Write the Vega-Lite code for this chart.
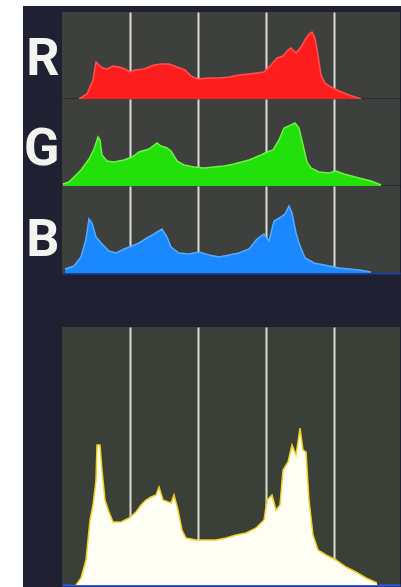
{
  "$schema": "https://vega.github.io/schema/vega-lite/v6.json",
  "background": "#1f2032",
  "padding": 0,
  "datasets": {
    "hist": [
      {"ch": "R", "v": 12.75, "h": 0}, {"ch": "R", "v": 18.75, "h": 5}, {"ch": "R", "v": 23.25, "h": 19}, {"ch": "R", "v": 25.5, "h": 37},
      {"ch": "R", "v": 27.75, "h": 34}, {"ch": "R", "v": 30.75, "h": 31}, {"ch": "R", "v": 33.75, "h": 30}, {"ch": "R", "v": 38.25, "h": 33},
      {"ch": "R", "v": 42.75, "h": 32}, {"ch": "R", "v": 47.25, "h": 30}, {"ch": "R", "v": 51, "h": 27}, {"ch": "R", "v": 54.75, "h": 29},
      {"ch": "R", "v": 61.5, "h": 30}, {"ch": "R", "v": 69, "h": 34}, {"ch": "R", "v": 75, "h": 35}, {"ch": "R", "v": 80.25, "h": 35},
      {"ch": "R", "v": 86.25, "h": 32}, {"ch": "R", "v": 92.25, "h": 29}, {"ch": "R", "v": 96.75, "h": 23}, {"ch": "R", "v": 102, "h": 20},
      {"ch": "R", "v": 110.25, "h": 21}, {"ch": "R", "v": 117.75, "h": 21}, {"ch": "R", "v": 125.25, "h": 22}, {"ch": "R", "v": 132.75, "h": 24},
      {"ch": "R", "v": 140.25, "h": 25}, {"ch": "R", "v": 146.25, "h": 26}, {"ch": "R", "v": 151.5, "h": 27}, {"ch": "R", "v": 156.75, "h": 34},
      {"ch": "R", "v": 161.25, "h": 41}, {"ch": "R", "v": 165.75, "h": 43}, {"ch": "R", "v": 169.5, "h": 49}, {"ch": "R", "v": 171.75, "h": 51},
      {"ch": "R", "v": 175.5, "h": 46}, {"ch": "R", "v": 179.25, "h": 52}, {"ch": "R", "v": 182.25, "h": 59}, {"ch": "R", "v": 185.25, "h": 65},
      {"ch": "R", "v": 187.5, "h": 67}, {"ch": "R", "v": 189.75, "h": 61}, {"ch": "R", "v": 192, "h": 44}, {"ch": "R", "v": 194.25, "h": 24},
      {"ch": "R", "v": 197.25, "h": 16}, {"ch": "R", "v": 201.75, "h": 12}, {"ch": "R", "v": 207.75, "h": 8}, {"ch": "R", "v": 215.25, "h": 4},
      {"ch": "R", "v": 224.25, "h": 0},

      {"ch": "G", "v": 0.75, "h": 2}, {"ch": "G", "v": 5.25, "h": 4}, {"ch": "G", "v": 9, "h": 9}, {"ch": "G", "v": 14.25, "h": 16},
      {"ch": "G", "v": 20.25, "h": 27}, {"ch": "G", "v": 24, "h": 37}, {"ch": "G", "v": 27, "h": 49}, {"ch": "G", "v": 28.5, "h": 46},
      {"ch": "G", "v": 30, "h": 31}, {"ch": "G", "v": 33.75, "h": 25}, {"ch": "G", "v": 39, "h": 24}, {"ch": "G", "v": 46.5, "h": 26},
      {"ch": "G", "v": 52.5, "h": 29}, {"ch": "G", "v": 57.75, "h": 34}, {"ch": "G", "v": 65.25, "h": 37}, {"ch": "G", "v": 71.25, "h": 43},
      {"ch": "G", "v": 74.25, "h": 40}, {"ch": "G", "v": 78.75, "h": 38}, {"ch": "G", "v": 81.75, "h": 35}, {"ch": "G", "v": 86.25, "h": 25},
      {"ch": "G", "v": 91.5, "h": 21}, {"ch": "G", "v": 99, "h": 19}, {"ch": "G", "v": 106.5, "h": 18}, {"ch": "G", "v": 114, "h": 19},
      {"ch": "G", "v": 121.5, "h": 20}, {"ch": "G", "v": 129, "h": 22}, {"ch": "G", "v": 140.25, "h": 26}, {"ch": "G", "v": 149.25, "h": 31},
      {"ch": "G", "v": 153.75, "h": 34}, {"ch": "G", "v": 158.25, "h": 36}, {"ch": "G", "v": 162.75, "h": 46}, {"ch": "G", "v": 166.5, "h": 58},
      {"ch": "G", "v": 171.75, "h": 61}, {"ch": "G", "v": 174.75, "h": 63}, {"ch": "G", "v": 177.75, "h": 58}, {"ch": "G", "v": 180.75, "h": 41},
      {"ch": "G", "v": 183.75, "h": 24}, {"ch": "G", "v": 186.75, "h": 18}, {"ch": "G", "v": 192.75, "h": 14}, {"ch": "G", "v": 200.25, "h": 13},
      {"ch": "G", "v": 205.5, "h": 15}, {"ch": "G", "v": 211.5, "h": 12}, {"ch": "G", "v": 222.75, "h": 8}, {"ch": "G", "v": 231.75, "h": 5},
      {"ch": "G", "v": 239.25, "h": 1},

      {"ch": "B", "v": 2.25, "h": 4}, {"ch": "B", "v": 9, "h": 7}, {"ch": "B", "v": 14.25, "h": 16}, {"ch": "B", "v": 18, "h": 34},
      {"ch": "B", "v": 20.25, "h": 54}, {"ch": "B", "v": 22.5, "h": 50}, {"ch": "B", "v": 25.5, "h": 36}, {"ch": "B", "v": 30, "h": 29},
      {"ch": "B", "v": 35.25, "h": 22}, {"ch": "B", "v": 40.5, "h": 20}, {"ch": "B", "v": 46.5, "h": 24}, {"ch": "B", "v": 52.5, "h": 27},
      {"ch": "B", "v": 57.75, "h": 30}, {"ch": "B", "v": 63.75, "h": 35}, {"ch": "B", "v": 69, "h": 39}, {"ch": "B", "v": 75, "h": 44},
      {"ch": "B", "v": 78.75, "h": 36}, {"ch": "B", "v": 81.75, "h": 26}, {"ch": "B", "v": 87.75, "h": 20}, {"ch": "B", "v": 95.25, "h": 19},
      {"ch": "B", "v": 102.75, "h": 21}, {"ch": "B", "v": 110.25, "h": 18}, {"ch": "B", "v": 117.75, "h": 16}, {"ch": "B", "v": 125.25, "h": 18},
      {"ch": "B", "v": 132.75, "h": 20}, {"ch": "B", "v": 140.25, "h": 24}, {"ch": "B", "v": 146.25, "h": 34}, {"ch": "B", "v": 151.5, "h": 39},
      {"ch": "B", "v": 155.25, "h": 32}, {"ch": "B", "v": 159, "h": 52}, {"ch": "B", "v": 164.25, "h": 56}, {"ch": "B", "v": 167.25, "h": 59},
      {"ch": "B", "v": 170.25, "h": 67}, {"ch": "B", "v": 172.5, "h": 60}, {"ch": "B", "v": 175.5, "h": 40}, {"ch": "B", "v": 177.75, "h": 30},
      {"ch": "B", "v": 182.25, "h": 15}, {"ch": "B", "v": 189, "h": 10}, {"ch": "B", "v": 196.5, "h": 8}, {"ch": "B", "v": 207.75, "h": 5},
      {"ch": "B", "v": 222.75, "h": 3}, {"ch": "B", "v": 231.75, "h": 1},

      {"ch": "Y", "v": 10.5, "h": 0}, {"ch": "Y", "v": 14.25, "h": 7}, {"ch": "Y", "v": 18, "h": 25}, {"ch": "Y", "v": 21, "h": 65},
      {"ch": "Y", "v": 23.25, "h": 80}, {"ch": "Y", "v": 25.5, "h": 105}, {"ch": "Y", "v": 26.25, "h": 140}, {"ch": "Y", "v": 28.5, "h": 140},
      {"ch": "Y", "v": 30, "h": 115}, {"ch": "Y", "v": 32.25, "h": 85}, {"ch": "Y", "v": 35.25, "h": 73}, {"ch": "Y", "v": 38.25, "h": 63},
      {"ch": "Y", "v": 44.25, "h": 63}, {"ch": "Y", "v": 50.25, "h": 67}, {"ch": "Y", "v": 55.5, "h": 73}, {"ch": "Y", "v": 59.25, "h": 80},
      {"ch": "Y", "v": 63, "h": 85}, {"ch": "Y", "v": 66.75, "h": 88}, {"ch": "Y", "v": 70.5, "h": 90}, {"ch": "Y", "v": 72.75, "h": 98},
      {"ch": "Y", "v": 75.75, "h": 85}, {"ch": "Y", "v": 81.75, "h": 82}, {"ch": "Y", "v": 84, "h": 90}, {"ch": "Y", "v": 87, "h": 75},
      {"ch": "Y", "v": 90, "h": 55}, {"ch": "Y", "v": 93, "h": 47}, {"ch": "Y", "v": 100.5, "h": 45}, {"ch": "Y", "v": 108, "h": 45},
      {"ch": "Y", "v": 115.5, "h": 45}, {"ch": "Y", "v": 123, "h": 47}, {"ch": "Y", "v": 130.5, "h": 50}, {"ch": "Y", "v": 138, "h": 52},
      {"ch": "Y", "v": 145.5, "h": 57}, {"ch": "Y", "v": 151.5, "h": 65}, {"ch": "Y", "v": 153.75, "h": 85}, {"ch": "Y", "v": 157.5, "h": 90},
      {"ch": "Y", "v": 160.5, "h": 75}, {"ch": "Y", "v": 163.5, "h": 80}, {"ch": "Y", "v": 165.75, "h": 115}, {"ch": "Y", "v": 169.5, "h": 123},
      {"ch": "Y", "v": 172.5, "h": 140}, {"ch": "Y", "v": 175.5, "h": 130}, {"ch": "Y", "v": 178.5, "h": 157}, {"ch": "Y", "v": 180.75, "h": 135},
      {"ch": "Y", "v": 183, "h": 133}, {"ch": "Y", "v": 185.25, "h": 85}, {"ch": "Y", "v": 188.25, "h": 50}, {"ch": "Y", "v": 192, "h": 35},
      {"ch": "Y", "v": 198, "h": 30}, {"ch": "Y", "v": 205.5, "h": 25}, {"ch": "Y", "v": 213, "h": 18}, {"ch": "Y", "v": 220.5, "h": 13},
      {"ch": "Y", "v": 228, "h": 7}, {"ch": "Y", "v": 236.25, "h": 2}
    ],
    "blank": [{"t": ""}]
  },
  "config": {
    "view": {"stroke": null},
    "axis": {"labels": false, "ticks": false, "title": null}
  },
  "spacing": 0,
  "vconcat": [
    {
      "width": 401, "height": 6,
      "view": {"fill": "#ffffff", "stroke": null},
      "data": {"name": "blank"},
      "transform": [{"filter": "false"}],
      "mark": {"type": "text", "fontSize": 0},
      "encoding": {"text": {"field": "t"}}
    },
    {
      "spacing": 0,
      "hconcat": [
        {
          "width": 23, "height": 581,
          "view": {"fill": "#ffffff", "stroke": null},
          "data": {"name": "blank"},
          "transform": [{"filter": "false"}],
          "mark": {"type": "text", "fontSize": 0},
          "encoding": {"text": {"field": "t"}}
        },
        {
          "spacing": 0,
          "bounds": "flush",
          "vconcat": [
            {
              "width": 338, "height": 6,
              "data": {"name": "blank"},
              "transform": [{"filter": "false"}],
              "mark": {"type": "text", "fontSize": 0},
              "encoding": {"text": {"field": "t"}}
            },
            {
              "width": 338, "height": 87,
              "view": {"fill": "#3d403c", "stroke": null},
              "data": {"name": "hist"},
              "transform": [{"filter": "datum.ch === 'R'"}],
              "mark": {"type": "area", "color": "#ff1e1e", "opacity": 1, "fillOpacity": 1, "line": {"color": "#ff5050", "strokeWidth": 1.5}},
              "encoding": {
                "x": {"field": "v", "type": "quantitative", "scale": {"domain": [0, 253.5], "nice": false, "zero": false},
                  "axis": {"values": [51, 102, 153, 204], "grid": true, "gridColor": "#dcdcd6", "gridWidth": 2, "gridOpacity": 1, "domain": true, "domainColor": "#17181c", "domainWidth": 2}},
                "y": {"field": "h", "type": "quantitative", "stack": null, "scale": {"domain": [0, 87], "nice": false},
                  "axis": {"grid": false, "domain": false, "minExtent": 0, "maxExtent": 0, "title": "R", "titleAngle": 0, "titleAlign": "right", "titleBaseline": "alphabetic", "titleY": 62, "titlePadding": 3, "titleFont": "Roboto", "titleFontSize": 52, "titleFontWeight": "bold", "titleColor": "#f3f3ef"}}
              }
            },
            {
              "width": 338, "height": 87,
              "view": {"fill": "#3d403c", "stroke": null},
              "data": {"name": "hist"},
              "transform": [{"filter": "datum.ch === 'G'"}],
              "mark": {"type": "area", "color": "#22e00a", "opacity": 1, "fillOpacity": 1, "line": {"color": "#70f048", "strokeWidth": 1.5}},
              "encoding": {
                "x": {"field": "v", "type": "quantitative", "scale": {"domain": [0, 253.5], "nice": false, "zero": false},
                  "axis": {"values": [51, 102, 153, 204], "grid": true, "gridColor": "#dcdcd6", "gridWidth": 2, "gridOpacity": 1, "domain": true, "domainColor": "#17181c", "domainWidth": 2}},
                "y": {"field": "h", "type": "quantitative", "stack": null, "scale": {"domain": [0, 87], "nice": false},
                  "axis": {"grid": false, "domain": false, "minExtent": 0, "maxExtent": 0, "title": "G", "titleAngle": 0, "titleAlign": "right", "titleBaseline": "alphabetic", "titleY": 65, "titlePadding": 3, "titleFont": "Roboto", "titleFontSize": 52, "titleFontWeight": "bold", "titleColor": "#f3f3ef"}}
              }
            },
            {
              "width": 338, "height": 87,
              "view": {"fill": "#3d403c", "stroke": null},
              "data": {"name": "hist"},
              "transform": [{"filter": "datum.ch === 'B'"}],
              "mark": {"type": "area", "color": "#1a88ff", "opacity": 1, "fillOpacity": 1, "line": {"color": "#58aaff", "strokeWidth": 1.5}},
              "encoding": {
                "x": {"field": "v", "type": "quantitative", "scale": {"domain": [0, 253.5], "nice": false, "zero": false},
                  "axis": {"values": [51, 102, 153, 204], "grid": true, "gridColor": "#dcdcd6", "gridWidth": 2, "gridOpacity": 1, "domain": true, "domainColor": "#1d3f9a", "domainWidth": 2}},
                "y": {"field": "h", "type": "quantitative", "stack": null, "scale": {"domain": [0, 87], "nice": false},
                  "axis": {"grid": false, "domain": false, "minExtent": 0, "maxExtent": 0, "title": "B", "titleAngle": 0, "titleAlign": "right", "titleBaseline": "alphabetic", "titleY": 69, "titlePadding": 3, "titleFont": "Roboto", "titleFontSize": 52, "titleFontWeight": "bold", "titleColor": "#f3f3ef"}}
              }
            },
            {
              "width": 338, "height": 54,
              "data": {"name": "blank"},
              "transform": [{"filter": "false"}],
              "mark": {"type": "text", "fontSize": 0},
              "encoding": {"text": {"field": "t"}}
            },
            {
              "width": 338, "height": 258,
              "view": {"fill": "#3a3f38", "stroke": null},
              "data": {"name": "hist"},
              "transform": [{"filter": "datum.ch === 'Y'"}],
              "mark": {"type": "area", "color": "#fffef4", "opacity": 1, "fillOpacity": 1, "line": {"color": "#f0d020", "strokeWidth": 1.5}},
              "encoding": {
                "x": {"field": "v", "type": "quantitative", "scale": {"domain": [0, 253.5], "nice": false, "zero": false},
                  "axis": {"values": [51, 102, 153, 204], "grid": true, "gridColor": "#dcdcd6", "gridWidth": 2, "gridOpacity": 1, "domain": true, "domainColor": "#2a5ae8", "domainWidth": 2}},
                "y": {"field": "h", "type": "quantitative", "stack": null, "scale": {"domain": [0, 258], "nice": false},
                  "axis": {"grid": false, "domain": false, "minExtent": 0, "maxExtent": 0, "title": null}}
              }
            }
          ]
        }
      ]
    }
  ]
}
